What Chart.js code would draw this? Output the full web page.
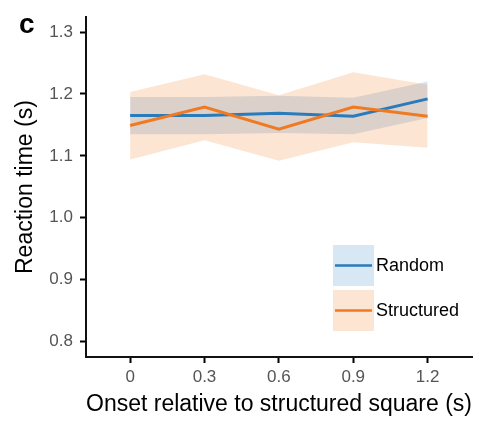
<!DOCTYPE html>
<html>
<head>
<meta charset="utf-8">
<script src="https://cdn.jsdelivr.net/npm/chart.js@4/dist/chart.umd.min.js"></script>
<style>
  html, body { margin: 0; padding: 0; background: #fff; }
  #wrap { position: relative; width: 483px; height: 423px; }
</style>
</head>
<body>
<div id="wrap"><canvas id="chart"></canvas></div>
<script>
  "use strict";

  // onset relative to structured square (s)
  const onsets = [0, 0.3, 0.6, 0.9, 1.2];
  const xTicks = [0, 0.3, 0.6, 0.9, 1.2];
  const yTicks = [0.8, 0.9, 1.0, 1.1, 1.2, 1.3];

  // reaction time (s), mean and shaded band
  const randomMean = [1.165, 1.165, 1.169, 1.164, 1.192];
  const randomLow = [1.135, 1.135, 1.137, 1.135, 1.161];
  const randomHigh = [1.195, 1.195, 1.197, 1.194, 1.220];

  const structuredMean = [1.149, 1.179, 1.143, 1.179, 1.164];
  const structuredLow = [1.094, 1.125, 1.092, 1.122, 1.113];
  const structuredHigh = [1.203, 1.232, 1.198, 1.235, 1.215];

  const seriesNames = ["Random", "Structured"];

  const blue = "#2a7bba";
  const orange = "#f07a22";
  const blueBand = "rgba(40, 125, 190, 0.2)";
  const orangeBand = "rgba(245, 125, 40, 0.2)";
  const font = "'Liberation Sans', Arial, Helvetica, sans-serif";

  function pts(values) {
    return onsets.map((x, i) => ({ x: x, y: values[i] }));
  }

  // higher order is drawn first (underneath)
  function band(values, fill, color, order) {
    return {
      data: pts(values),
      borderWidth: 0,
      pointRadius: 0,
      backgroundColor: color,
      fill: fill,
      tension: 0,
      order: order
    };
  }

  function line(label, values, color, order) {
    return {
      label: label,
      data: pts(values),
      borderColor: color,
      borderWidth: 3,
      pointRadius: 0,
      fill: false,
      tension: 0,
      order: order
    };
  }

  // legend + panel letter, drawn on the canvas
  const extras = {
    id: "extras",
    afterDraw(chart) {
      const ctx = chart.ctx;
      ctx.save();
      ctx.fillStyle = "#000";
      ctx.font = "bold 28px " + font;
      ctx.textBaseline = "alphabetic";
      ctx.fillText("c", 19, 33);

      const items = [
        { name: seriesNames[0], fill: "rgba(40, 125, 190, 0.19)", color: blue },
        { name: seriesNames[1], fill: "rgba(245, 125, 40, 0.2)", color: orange }
      ];
      items.forEach((it, i) => {
        const top = 245 + i * 45;
        ctx.fillStyle = it.fill;
        ctx.fillRect(333, top, 41, 41);
        ctx.strokeStyle = it.color;
        ctx.lineWidth = 2.5;
        ctx.beginPath();
        ctx.moveTo(335, top + 20.5);
        ctx.lineTo(372, top + 20.5);
        ctx.stroke();
        ctx.fillStyle = "#000";
        ctx.font = "18px " + font;
        ctx.textBaseline = "middle";
        ctx.fillText(it.name, 376, top + 21);
      });
      ctx.restore();
    }
  };

  new Chart(document.getElementById("chart"), {
    type: "line",
    data: {
      datasets: [
        band(randomHigh, "+1", blueBand, 4),
        band(randomLow, false, blueBand, 4),
        band(structuredHigh, "+1", orangeBand, 3),
        band(structuredLow, false, orangeBand, 3),
        line(seriesNames[0], randomMean, blue, 1),
        line(seriesNames[1], structuredMean, orange, 0)
      ]
    },
    options: {
      responsive: true,
      maintainAspectRatio: false,
      animation: false,
      layout: { padding: { top: 10, right: 11, left: 0, bottom: 0 } },
      plugins: {
        legend: { display: false },
        tooltip: { enabled: false }
      },
      scales: {
        x: {
          type: "linear",
          min: -0.178,
          max: 1.379,
          afterBuildTicks: (scale) => { scale.ticks = xTicks.map((v) => ({ value: v })); },
          afterFit: (scale) => { scale.height = 66; },
          grid: { drawOnChartArea: false, drawTicks: true, tickLength: 6, tickColor: "#000", tickWidth: 2 },
          border: { display: true, color: "#111", width: 2 },
          ticks: {
            color: "#555",
            padding: 4,
            maxRotation: 0,
            font: { family: font, size: 17 },
            callback: (v) => String(Math.round(v * 10) / 10)
          },
          title: {
            display: true,
            text: "Onset relative to structured square (s)",
            color: "#000",
            font: { family: font, size: 23 },
            padding: { top: 0, bottom: 5 }
          }
        },
        y: {
          min: 0.775,
          max: 1.324,
          afterBuildTicks: (scale) => { scale.ticks = yTicks.map((v) => ({ value: v })); },
          afterFit: (scale) => { scale.width = 86; },
          grid: { drawOnChartArea: false, drawTicks: true, tickLength: 6, tickColor: "#000", tickWidth: 2 },
          border: { display: true, color: "#111", width: 2 },
          ticks: {
            color: "#555",
            padding: 7,
            font: { family: font, size: 17 },
            callback: (v) => Number(v).toFixed(1)
          },
          title: {
            display: true,
            text: "Reaction time (s)",
            color: "#000",
            font: { family: font, size: 23 },
            padding: { top: 12, bottom: 0 }
          }
        }
      }
    },
    plugins: [extras]
  });
</script>
</body>
</html>
